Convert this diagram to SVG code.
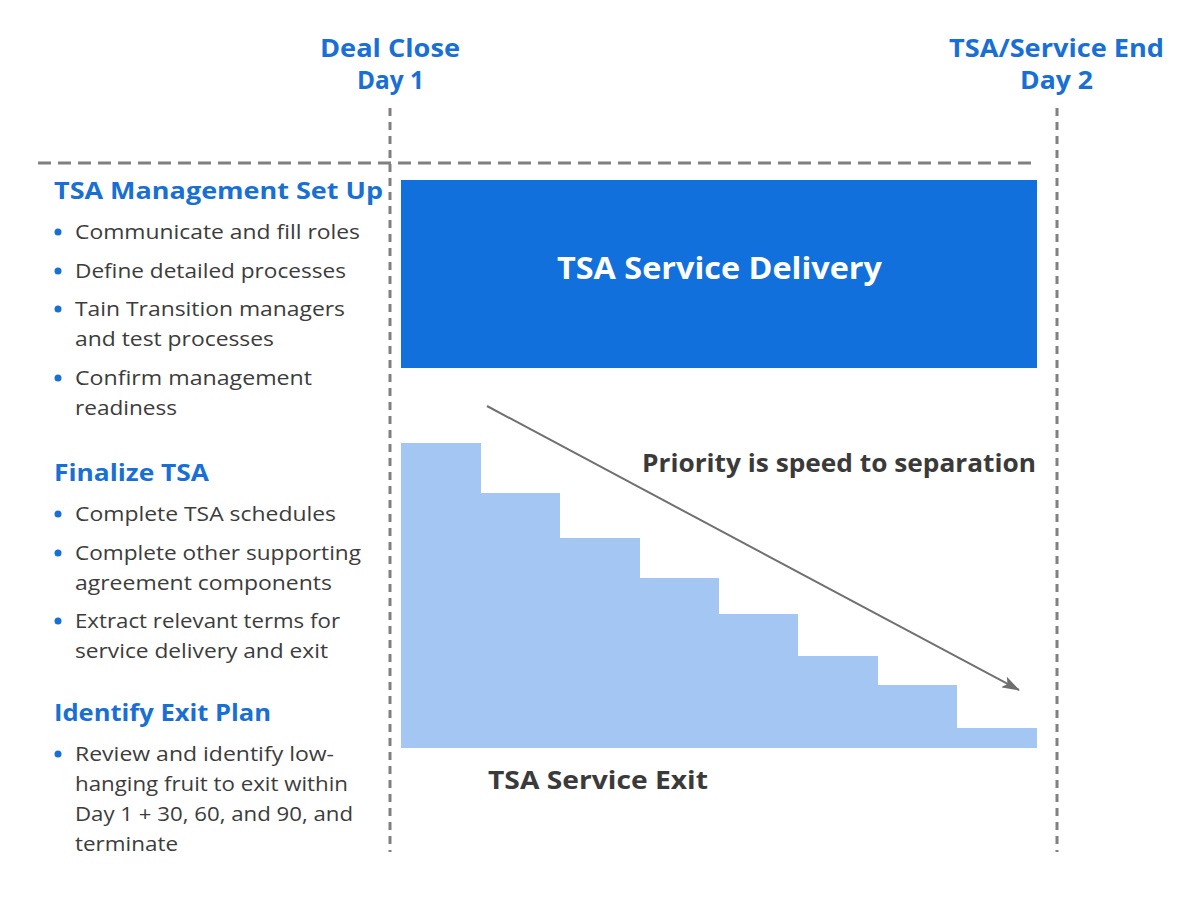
<svg xmlns="http://www.w3.org/2000/svg" width="1193" height="900" viewBox="0 0 1193 900">
<style>
text{lengthAdjust:spacingAndGlyphs;}
.hdr{font-family:"Open Sans","Liberation Sans",sans-serif;font-weight:700;font-size:25px;fill:#1870D5;}
.h2{font-family:"Open Sans","Liberation Sans",sans-serif;font-weight:700;font-size:24px;fill:#1870D5;}
.b{font-family:"Open Sans","Liberation Sans",sans-serif;font-weight:400;font-size:20px;fill:#3c3c3c;}
.lbl{font-family:"Open Sans","Liberation Sans",sans-serif;font-weight:700;font-size:25px;fill:#3a3a3a;}
.dot{fill:#1870D5;}
.vd{stroke:#808080;stroke-width:3;stroke-dasharray:8 6;fill:none;}
.hd{stroke:#808080;stroke-width:3;stroke-dasharray:13 7;fill:none;}
</style>
<defs>
<marker id="ah" viewBox="0 0 18 12" refX="17" refY="6" markerWidth="18" markerHeight="12" markerUnits="userSpaceOnUse" orient="auto">
<path d="M0,0 L18,6 L0,12 L4,6 z" fill="#6e6e6e"/>
</marker>
</defs>
<rect width="1193" height="900" fill="#ffffff"/>
<g id="guides">
<line class="hd" x1="38" y1="163" x2="1037" y2="163"/>
<line class="vd" x1="390" y1="108" x2="390" y2="852"/>
<line class="vd" x1="1057" y1="108" x2="1057" y2="852"/>
</g>
<g id="milestone-day1">
<text class="hdr" x="320" y="57" textLength="140" lengthAdjust="spacingAndGlyphs">Deal Close</text>
<text class="hdr" x="357" y="89" textLength="67" lengthAdjust="spacingAndGlyphs">Day 1</text>
</g>
<g id="milestone-day2">
<text class="hdr" x="949" y="57" textLength="215" lengthAdjust="spacingAndGlyphs">TSA/Service End</text>
<text class="hdr" x="1020" y="89" textLength="73" lengthAdjust="spacingAndGlyphs">Day 2</text>
</g>
<g id="service-delivery">
<rect x="401" y="180" width="636" height="188" fill="#1170DB"/>
<text x="557" y="279" textLength="325" lengthAdjust="spacingAndGlyphs" style="font-family:'Open Sans','Liberation Sans',sans-serif;font-weight:700;font-size:30px;fill:#ffffff;">TSA Service Delivery</text>
</g>
<g id="service-exit">
<path d="M401,443 H481 V493 H560 V538 H640 V578 H719 V614 H798 V656 H878 V685 H957 V728 H1037 V748 H401 Z" fill="#A4C6F2"/>
<text class="lbl" x="488" y="789" textLength="220" lengthAdjust="spacingAndGlyphs">TSA Service Exit</text>
</g>
<g id="connectors">
<line x1="487" y1="406" x2="1019" y2="690" stroke="#707070" stroke-width="2" marker-end="url(#ah)"/>
</g>
<g id="priority-label">
<text class="lbl" x="642" y="472" textLength="394" lengthAdjust="spacingAndGlyphs">Priority is speed to separation</text>
</g>
<g id="mgmt-setup">
<text class="h2" x="54" y="199" textLength="329" lengthAdjust="spacingAndGlyphs">TSA Management Set Up</text>
<circle class="dot" cx="58" cy="232" r="3.5"/>
<text class="b" x="75" y="239" textLength="285" lengthAdjust="spacingAndGlyphs">Communicate and fill roles</text>
<circle class="dot" cx="58" cy="271" r="3.5"/>
<text class="b" x="75" y="278" textLength="271" lengthAdjust="spacingAndGlyphs">Define detailed processes</text>
<circle class="dot" cx="58" cy="309" r="3.5"/>
<text class="b" x="75" y="316" textLength="270" lengthAdjust="spacingAndGlyphs">Tain Transition managers</text>
<text class="b" x="75" y="346" textLength="199" lengthAdjust="spacingAndGlyphs">and test processes</text>
<circle class="dot" cx="58" cy="378" r="3.5"/>
<text class="b" x="75" y="385" textLength="237" lengthAdjust="spacingAndGlyphs">Confirm management</text>
<text class="b" x="75" y="415" textLength="102" lengthAdjust="spacingAndGlyphs">readiness</text>
</g>
<g id="finalize-tsa">
<text class="h2" x="54" y="481" textLength="155" lengthAdjust="spacingAndGlyphs">Finalize TSA</text>
<circle class="dot" cx="58" cy="514" r="3.5"/>
<text class="b" x="75" y="521" textLength="261" lengthAdjust="spacingAndGlyphs">Complete TSA schedules</text>
<circle class="dot" cx="58" cy="553" r="3.5"/>
<text class="b" x="75" y="560" textLength="286" lengthAdjust="spacingAndGlyphs">Complete other supporting</text>
<text class="b" x="75" y="590" textLength="257" lengthAdjust="spacingAndGlyphs">agreement components</text>
<circle class="dot" cx="58" cy="621" r="3.5"/>
<text class="b" x="75" y="628" textLength="265" lengthAdjust="spacingAndGlyphs">Extract relevant terms for</text>
<text class="b" x="75" y="658" textLength="253" lengthAdjust="spacingAndGlyphs">service delivery and exit</text>
</g>
<g id="exit-plan">
<text class="h2" x="54" y="721" textLength="217" lengthAdjust="spacingAndGlyphs">Identify Exit Plan</text>
<circle class="dot" cx="58" cy="754" r="3.5"/>
<text class="b" x="75" y="761" textLength="259" lengthAdjust="spacingAndGlyphs">Review and identify low-</text>
<text class="b" x="75" y="791" textLength="273" lengthAdjust="spacingAndGlyphs">hanging fruit to exit within</text>
<text class="b" x="75" y="821" textLength="278" lengthAdjust="spacingAndGlyphs">Day 1 + 30, 60, and 90, and</text>
<text class="b" x="75" y="851" textLength="103" lengthAdjust="spacingAndGlyphs">terminate</text>
</g>
</svg>
